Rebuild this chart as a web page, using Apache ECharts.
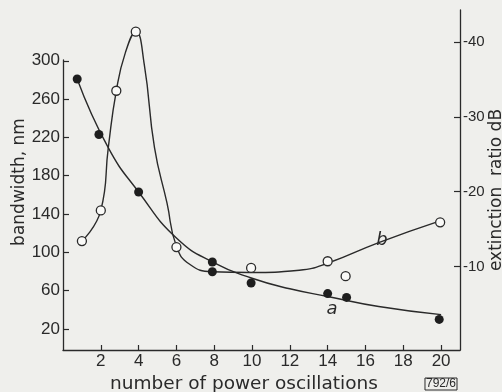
<!DOCTYPE html>
<html>
<head>
<meta charset="utf-8">
<style>
  html, body { margin: 0; padding: 0; background: #efefec; }
  #chart { width: 502px; height: 392px; }
</style>
<script src="https://cdn.jsdelivr.net/npm/echarts@6/dist/echarts.min.js"></script>
</head>
<body>
<div id="chart"></div>
<script>
// tick labels
const xTicks = [2, 4, 6, 8, 10, 12, 14, 16, 18, 20]
const bwTicks = [20, 60, 100, 140, 180, 220, 260, 300]
const erTicks = [-40, -30, -20, -10]

// curve a: bandwidth (nm), filled dots
const aDotX = [0.75, 1.9, 4, 7.9, 9.95, 14, 15, 19.9]
const aDotY = [281, 223, 163, 90, 68, 57, 53, 30]
const aLineX = [0.75, 2.4, 4, 6, 8, 10, 12, 14, 16.7, 20]
const aLineY = [281, 209, 163, 115, 89, 73, 62, 54, 43.5, 35]

// curve b: extinction ratio (dB), open dots
const bDotX = [1, 2, 2.82, 3.85, 6, 9.95, 14, 14.95, 19.95]
const bDotY = [-13.4, -17.5, -33.5, -41.4, -12.6, -9.8, -10.7, -8.7, -15.9]
const bFilledX = [7.9]
const bFilledY = [-9.3]
const bLineX = [1, 2, 2.4, 2.82, 3.3, 3.85, 4.3, 4.84, 5.5, 6.0, 6.7, 7.9, 9.9, 12.5, 14.06, 16.7, 19.95]
const bLineY = [-13.4, -17.5, -26, -33.5, -38.6, -41.4, -37, -25.9, -18.5, -12.7, -10.3, -9.3, -9.2, -9.5, -10.5, -13.2, -16.1]

const ink = '#2a2a2a'
const numFont = 'Liberation Sans'
const nameFont = 'DejaVu Sans'

const zip = (xs, ys) => xs.map((x, i) => [x, ys[i]])

const chart = echarts.init(document.getElementById('chart'))

const tickLabel = { color: ink, fontSize: 17, fontFamily: numFont }

const option = {
  backgroundColor: '#efefec',
  animation: false,
  grid: [
    { left: 63, right: 42, top: 60, bottom: 42 },
    { left: 63, right: 42, top: 10, bottom: 42 }
  ],
  xAxis: [
    {
      gridIndex: 0,
      type: 'value',
      min: 0,
      max: 21,
      axisLine: { show: true, onZero: false, lineStyle: { color: ink, width: 1.3 } },
      axisTick: { inside: true, length: 5, customValues: xTicks, lineStyle: { color: ink, width: 1.2 } },
      axisLabel: Object.assign({ customValues: xTicks, margin: 3 }, tickLabel),
      splitLine: { show: false }
    },
    { gridIndex: 1, type: 'value', min: 0, max: 21, show: false }
  ],
  yAxis: [
    {
      gridIndex: 0,
      type: 'value',
      min: -1.9,
      max: 300.8,
      axisLine: { show: true, onZero: false, lineStyle: { color: ink, width: 1.3 } },
      axisTick: { inside: true, length: 6, customValues: bwTicks, lineStyle: { color: ink, width: 1.2 } },
      axisLabel: Object.assign({ customValues: bwTicks, margin: 3 }, tickLabel),
      splitLine: { show: false }
    },
    {
      gridIndex: 1,
      type: 'value',
      position: 'right',
      inverse: true,
      min: -44.3,
      max: 1.17,
      axisLine: { show: true, onZero: false, lineStyle: { color: ink, width: 1.3 } },
      axisTick: { inside: true, length: 6, customValues: erTicks, lineStyle: { color: ink, width: 1.2 } },
      axisLabel: Object.assign({ customValues: erTicks, margin: 3 }, tickLabel, { fontSize: 15 }),
      splitLine: { show: false }
    }
  ],
  series: [
    {
      name: 'a',
      type: 'line',
      xAxisIndex: 0,
      yAxisIndex: 0,
      smooth: 0.5,
      showSymbol: false,
      lineStyle: { color: ink, width: 1.4 },
      data: zip(aLineX, aLineY)
    },
    {
      name: 'b',
      type: 'line',
      xAxisIndex: 1,
      yAxisIndex: 1,
      smooth: 0.5,
      showSymbol: false,
      lineStyle: { color: ink, width: 1.4 },
      data: zip(bLineX, bLineY)
    },
    {
      name: 'a dots',
      type: 'scatter',
      xAxisIndex: 0,
      yAxisIndex: 0,
      symbolSize: 9,
      itemStyle: { color: '#1e1e1e', opacity: 1 },
      z: 5,
      data: zip(aDotX, aDotY)
    },
    {
      name: 'b dots',
      type: 'scatter',
      xAxisIndex: 1,
      yAxisIndex: 1,
      symbolSize: 9,
      itemStyle: { color: '#fafaf8', borderColor: ink, borderWidth: 1.3, opacity: 1 },
      z: 5,
      data: zip(bDotX, bDotY)
    },
    {
      name: 'b filled',
      type: 'scatter',
      xAxisIndex: 1,
      yAxisIndex: 1,
      symbolSize: 9,
      itemStyle: { color: '#1e1e1e', opacity: 1 },
      z: 5,
      data: zip(bFilledX, bFilledY)
    }
  ],
  graphic: [
    {
      type: 'text', x: 244, y: 384,
      style: { text: 'number of power oscillations', font: '18.5px "' + nameFont + '"', fill: ink, align: 'center', verticalAlign: 'middle' }
    },
    {
      type: 'text', x: 20, y: 182, rotation: Math.PI / 2,
      style: { text: 'bandwidth, nm', font: '17px "' + nameFont + '"', fill: ink, align: 'center', verticalAlign: 'middle' }
    },
    {
      type: 'text', x: 497, y: 190, rotation: Math.PI / 2,
      style: { text: 'extinction  ratio dB', font: '17px "' + nameFont + '"', fill: ink, align: 'center', verticalAlign: 'middle' }
    },
    {
      type: 'text', x: 382, y: 240,
      style: { text: 'b', font: 'italic 18px "' + nameFont + '"', fill: ink, align: 'center', verticalAlign: 'middle' }
    },
    {
      type: 'text', x: 332, y: 309,
      style: { text: 'a', font: 'italic 18px "' + nameFont + '"', fill: ink, align: 'center', verticalAlign: 'middle' }
    },
    {
      type: 'text', x: 441, y: 384,
      style: {
        text: '792/6', font: '12px "' + numFont + '"', fill: ink, align: 'center', verticalAlign: 'middle',
        borderColor: ink, borderWidth: 1, padding: [0, 1, 0, 1]
      }
    }
  ]
}

chart.setOption(option)
</script>
</body>
</html>
